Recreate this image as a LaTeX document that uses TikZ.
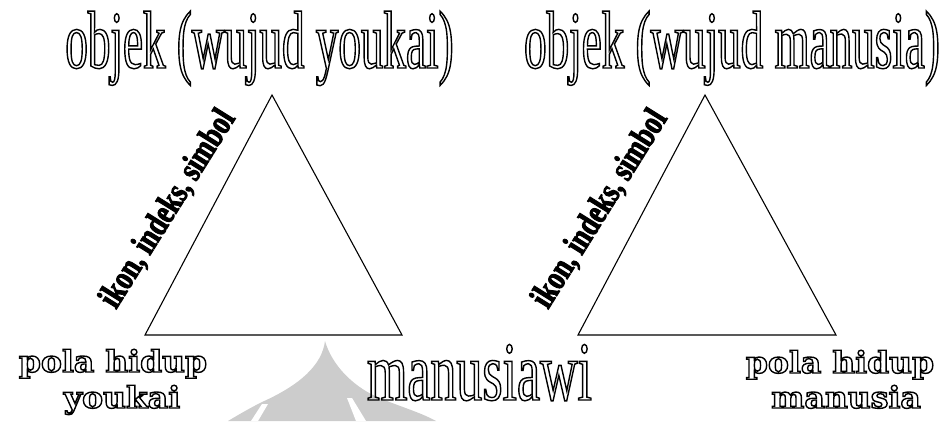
\documentclass[tikz,border=0pt]{standalone}
\usepackage{fontspec}
\setmainfont{Liberation Serif}
\newfontfamily\titlefont[FakeStretch=0.55]{Liberation Serif}
\newfontfamily\midfont[FakeStretch=0.618]{Liberation Serif}
\newfontfamily\widefont[FakeStretch=1.05]{DejaVu Serif}
\newfontfamily\rotfont[FakeStretch=0.76,FakeBold=2.5]{Liberation Serif}
\newcommand\hollowtext[1]{\special{pdf:literal direct 1 Tr 1.4 w}#1\special{pdf:literal direct 0 Tr}}
\begin{document}
\begin{tikzpicture}[x=1pt,y=-1pt,
  tri/.style={draw=black, line width=1.1pt, line join=miter},
  wm/.style={fill=black!20},
  titletxt/.style={inner sep=0pt, anchor=base, font=\titlefont\fontsize{82}{82}\selectfont},
  midtxt/.style={inner sep=0pt, anchor=base, font=\midfont\fontsize{84}{84}\selectfont},
  widetxt/.style={inner sep=0pt, anchor=base, font=\widefont\bfseries\fontsize{30}{30}\selectfont},
  rottxt/.style={inner sep=0pt, anchor=base, rotate=58, font=\rotfont\bfseries\fontsize{35}{35}\selectfont}]
\useasboundingbox (0,0) rectangle (952,421);
% watermark
\fill[wm] (325,341) .. controls (322,365) and (300,385) .. (262,402)
  .. controls (250,408) and (238,415) .. (228,421) -- (436,421)
  .. controls (420,412) and (395,405) .. (375,396)
  .. controls (352,385) and (332,365) .. (325,341) -- cycle;
\fill[white] (262,404) -- (268,404) -- (258,421) -- (251,421) -- cycle;
\fill[white] (347,398) -- (352,398) -- (366,421) -- (356,421) -- cycle;
% triangles
\coordinate (a1) at (145,335);
\coordinate (b1) at (272,95);
\coordinate (c1) at (402,335);
\coordinate (a2) at (578,335);
\coordinate (b2) at (705,95);
\coordinate (c2) at (836,335);
\draw[tri] (a1) -- (b1) -- (c1) -- cycle;
\draw[tri] (a2) -- (b2) -- (c2) -- cycle;
% titles
\node[titletxt] (t1) at (259.5,68) {\hollowtext{objek (wujud youkai)}};
\node[titletxt] (t2) at (732,68) {\hollowtext{objek (wujud manusia)}};
\node[midtxt] (mid) at (479.5,400) {\hollowtext{manusiawi}};
% bottom labels
\node[widetxt] (p1a) at (113,372) {\hollowtext{pola hidup}};
\node[widetxt] (p1b) at (122,408) {\hollowtext{youkai}};
\node[widetxt] (p2a) at (840,373) {\hollowtext{pola hidup}};
\node[widetxt] (p2b) at (846,408) {\hollowtext{manusia}};
% rotated labels
\node[rottxt] (r1) at (176,214) {ikon, indeks, simbol};
\node[rottxt] (r2) at (608,214) {ikon, indeks, simbol};
\end{tikzpicture}
\end{document}
